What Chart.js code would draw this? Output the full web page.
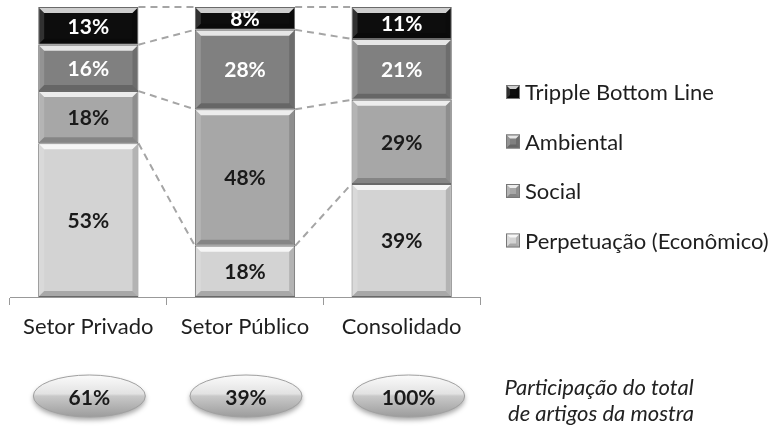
<!DOCTYPE html>
<html>
<head>
<meta charset="utf-8">
<script src="https://cdn.jsdelivr.net/npm/chart.js@4/dist/chart.umd.min.js"></script>
<style>
  html, body { margin: 0; padding: 0; background: #fff; }
  #caixa { width: 780px; height: 427px; }
</style>
</head>
<body>
<div id="caixa"><canvas id="grafico_artigos"></canvas></div>
<script>
// dados (percentual de cada foco por setor)
const categorias = ['Setor Privado', 'Setor Público', 'Consolidado'];
const series = ['Perpetuação (Econômico)', 'Social', 'Ambiental', 'Tripple Bottom Line'];
const perpetuacao = [53, 18, 39];
const social = [18, 48, 29];
const ambiental = [16, 28, 21];
const tripple = [13, 8, 11];
const participacao = [61, 39, 100];
const nota = ['Participação do total', 'de artigos da mostra'];

const valores = [perpetuacao, social, ambiental, tripple];
const cores = ['#d3d3d3', '#a7a7a7', '#808080', '#0d0d0d'];
const coresTexto = ['#1a1a1a', '#1a1a1a', '#ffffff', '#ffffff'];
const fonte = 'Lato, "Open Sans", sans-serif';

// barras 100% empilhadas: cada coluna normalizada pela soma dos rotulos
const totais = categorias.map((c, i) => valores.reduce((s, v) => s + v[i], 0));

const datasets = valores.map((v, k) => ({
    label: series[k],
    data: v.map((x, i) => x / totais[i] * 100),
    backgroundColor: cores[k],
    borderColor: '#6a6a6a',
    borderWidth: 1,
    borderSkipped: false,
    categoryPercentage: 1,
    barPercentage: 0.64
}));

function bevel(ctx, l, t, r, b, e) {
    ctx.save();
    ctx.fillStyle = 'rgba(255,255,255,0.8)';
    ctx.beginPath();
    ctx.moveTo(l, t); ctx.lineTo(r, t); ctx.lineTo(r - e, t + e); ctx.lineTo(l + e, t + e);
    ctx.closePath(); ctx.fill();
    ctx.fillStyle = 'rgba(255,255,255,0.15)';
    ctx.beginPath();
    ctx.moveTo(l, t); ctx.lineTo(l + e, t + e); ctx.lineTo(l + e, b - e); ctx.lineTo(l, b);
    ctx.closePath(); ctx.fill();
    ctx.fillStyle = 'rgba(0,0,0,0.15)';
    ctx.beginPath();
    ctx.moveTo(r, t); ctx.lineTo(r - e, t + e); ctx.lineTo(r - e, b - e); ctx.lineTo(r, b);
    ctx.closePath(); ctx.fill();
    ctx.fillStyle = 'rgba(0,0,0,0.2)';
    ctx.beginPath();
    ctx.moveTo(l, b); ctx.lineTo(l + e, b - e); ctx.lineTo(r - e, b - e); ctx.lineTo(r, b);
    ctx.closePath(); ctx.fill();
    ctx.restore();
}

const decoracao = {
    id: 'decoracao',
    beforeDatasetsDraw(chart) {
        // linhas de serie tracejadas entre as colunas
        const ctx = chart.ctx;
        ctx.save();
        ctx.strokeStyle = '#a5a5a5';
        ctx.lineWidth = 2;
        ctx.setLineDash([7, 5]);
        chart.data.datasets.forEach((ds, k) => {
            const els = chart.getDatasetMeta(k).data;
            for (let i = 0; i < els.length - 1; i++) {
                const a = els[i].getProps(['x', 'y', 'width'], true);
                const b = els[i + 1].getProps(['x', 'y', 'width'], true);
                ctx.beginPath();
                ctx.moveTo(a.x + a.width / 2, a.y);
                ctx.lineTo(b.x - b.width / 2, b.y);
                ctx.stroke();
            }
        });
        ctx.restore();
    },
    afterDatasetsDraw(chart) {
        const ctx = chart.ctx;
        chart.data.datasets.forEach((ds, k) => {
            chart.getDatasetMeta(k).data.forEach((el, i) => {
                const p = el.getProps(['x', 'y', 'base', 'width'], true);
                const l = p.x - p.width / 2, r = p.x + p.width / 2;
                bevel(ctx, l + 1, p.y + 1, r - 1, p.base - 1, 5);
                ctx.save();
                ctx.font = 'bold 21px ' + fonte;
                ctx.fillStyle = coresTexto[k];
                ctx.textAlign = 'center';
                ctx.textBaseline = 'middle';
                ctx.fillText(valores[k][i] + '%', p.x, (p.y + p.base) / 2 + 1);
                ctx.restore();
            });
        });
    },
    afterDraw(chart) {
        const ctx = chart.ctx;
        const xs = chart.scales.x;
        // legenda (ordem invertida, como no original)
        ctx.save();
        ctx.font = '22px ' + fonte;
        ctx.textBaseline = 'middle';
        for (let n = 0; n < series.length; n++) {
            const k = series.length - 1 - n;
            const y = 92 + n * 49.5;
            ctx.fillStyle = cores[k];
            ctx.fillRect(506, y - 7, 14, 14);
            ctx.strokeStyle = '#777';
            ctx.lineWidth = 1;
            ctx.strokeRect(506.5, y - 6.5, 13, 13);
            bevel(ctx, 507, y - 6, 519, y + 6, 3);
            ctx.fillStyle = '#1e1e1e';
            ctx.fillText(series[k], 525, y + 1);
        }
        ctx.restore();

        // elipses com a participacao de cada setor
        categorias.forEach((c, i) => {
            const cx = xs.getPixelForValue(i) + (i === 2 ? 7 : 1);
            const cy = 396, rx = 56, ry = 21;
            ctx.save();
            ctx.shadowColor = 'rgba(0,0,0,0.35)';
            ctx.shadowBlur = 5;
            ctx.shadowOffsetY = 3;
            const g = ctx.createLinearGradient(0, cy - ry, 0, cy + ry);
            g.addColorStop(0, '#fbfbfb');
            g.addColorStop(0.45, '#e2e2e2');
            g.addColorStop(0.5, '#c9c9c9');
            g.addColorStop(1, '#9c9c9c');
            ctx.fillStyle = g;
            ctx.beginPath();
            ctx.ellipse(cx, cy, rx, ry, 0, 0, Math.PI * 2);
            ctx.fill();
            ctx.restore();
            ctx.save();
            ctx.strokeStyle = '#a0a0a0';
            ctx.lineWidth = 1;
            ctx.beginPath();
            ctx.ellipse(cx, cy, rx, ry, 0, 0, Math.PI * 2);
            ctx.stroke();
            ctx.font = 'bold 21px ' + fonte;
            ctx.fillStyle = '#1a1a1a';
            ctx.textAlign = 'center';
            ctx.textBaseline = 'middle';
            ctx.fillText(participacao[i] + '%', cx, cy + 2);
            ctx.restore();
        });

        // nota em italico
        ctx.save();
        ctx.font = 'italic 22px ' + fonte;
        ctx.fillStyle = '#222';
        ctx.textAlign = 'center';
        ctx.textBaseline = 'middle';
        ctx.fillText(nota[0], 599, 388);
        ctx.fillText(nota[1], 601, 414);
        ctx.restore();
    }
};

const ctx = document.getElementById('grafico_artigos');
new Chart(ctx, {
    type: 'bar',
    data: {
        labels: categorias,
        datasets: datasets
    },
    options: {
        responsive: true,
        maintainAspectRatio: false,
        animation: false,
        devicePixelRatio: 1,
        layout: {
            padding: { top: 7, left: 10, right: 300, bottom: 0 }
        },
        plugins: {
            legend: { display: false },
            tooltip: { enabled: false }
        },
        scales: {
            x: {
                stacked: true,
                grid: {
                    display: true,
                    drawOnChartArea: false,
                    drawTicks: true,
                    tickLength: 8,
                    color: '#999'
                },
                border: { color: '#999', width: 1 },
                ticks: {
                    font: { family: 'Lato', size: 22 },
                    color: '#1e1e1e',
                    padding: 9
                },
                afterFit: function (s) { s.height = 130; }
            },
            y: {
                stacked: true,
                display: false,
                min: 0,
                max: 100
            }
        }
    },
    plugins: [decoracao]
});
</script>
</body>
</html>
